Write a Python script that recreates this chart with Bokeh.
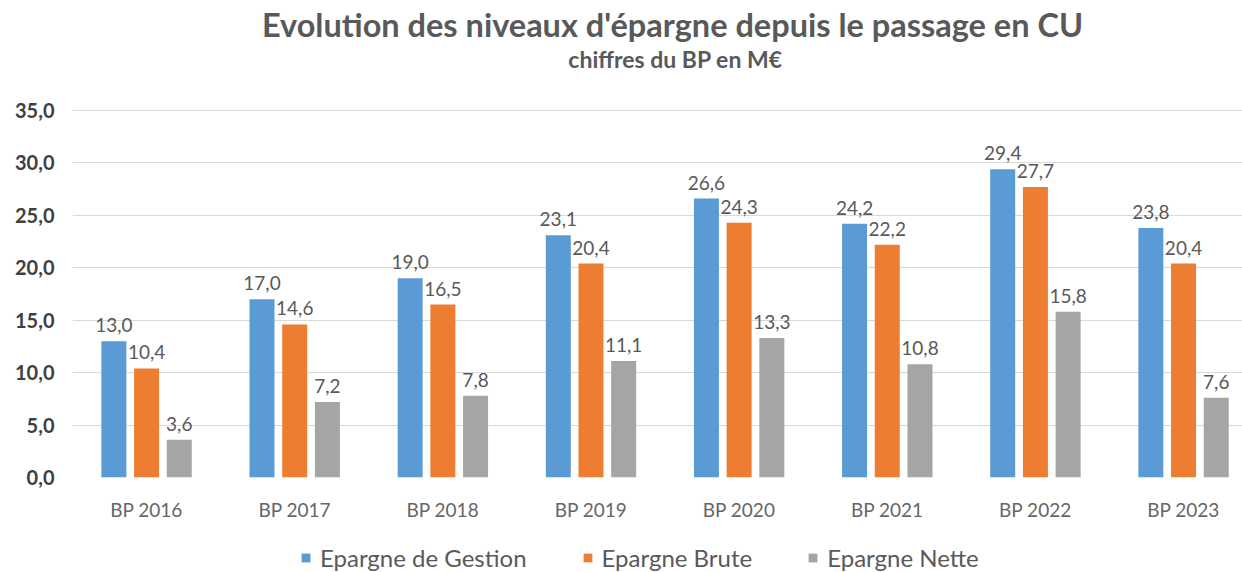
from bokeh.plotting import figure
from bokeh.layouts import column
from bokeh.models import (Range1d, FixedTicker, CustomJSTickFormatter, Label,
                          Legend, LegendItem, ColumnDataSource)
from bokeh.transform import dodge
from bokeh.core.properties import value
from bokeh.embed import file_html
from bokeh.resources import INLINE

categories = ["BP 2016", "BP 2017", "BP 2018", "BP 2019", "BP 2020", "BP 2021", "BP 2022", "BP 2023"]
gestion = [13.0, 17.0, 19.0, 23.1, 26.6, 24.2, 29.4, 23.8]
brute = [10.4, 14.6, 16.5, 20.4, 24.3, 22.2, 27.7, 20.4]
nette = [3.6, 7.2, 7.8, 11.1, 13.3, 10.8, 15.8, 7.6]
series_names = ["Epargne de Gestion", "Epargne Brute", "Epargne Nette"]
y_ticks = [0, 5, 10, 15, 20, 25, 30, 35]
title_text = "Evolution des niveaux d'épargne depuis le passage en CU"
subtitle_text = "chiffres du BP en M€"

colors = ["#5B9BD5", "#ED7D31", "#A5A5A5"]
FONT = "Lato"
TXT = "#595959"

def fmt(v):
    return f"{v:.1f}".replace(".", ",")

xi = [i + 0.5 for i in range(len(categories))]
src = ColumnDataSource(dict(
    xi=xi,
    gestion=gestion, brute=brute, nette=nette,
    gestion_l=[fmt(v) for v in gestion],
    brute_l=[fmt(v) for v in brute],
    nette_l=[fmt(v) for v in nette],
))

W, H0, H1, H2 = 1242, 92, 438, 42
PITCH = 148.14


def strip(height):
    f = figure(width=W, height=height, output_backend="svg", toolbar_location=None,
               title=None, x_axis_type=None, y_axis_type=None,
               x_range=Range1d(-60, -52), y_range=Range1d(100, 101),
               min_border_left=0, min_border_right=0, min_border_top=0,
               min_border_bottom=0, outline_line_color=None)
    f.xgrid.grid_line_color = None
    f.ygrid.grid_line_color = None
    return f

# header strip with title and subtitle (its frame is aligned with the chart frame)
hd = strip(H0)
hd.add_layout(Label(x=600, y=68, x_units="screen", y_units="screen",
                    text=title_text, text_align="center", text_baseline="alphabetic",
                    text_font=FONT, text_font_style="bold", text_font_size="32.5px",
                    text_color=TXT))
hd.add_layout(Label(x=603, y=34, x_units="screen", y_units="screen",
                    text=subtitle_text, text_align="center", text_baseline="alphabetic",
                    text_font=FONT, text_font_style="bold", text_font_size="23px",
                    text_color=TXT))

# main chart
p = figure(width=W, height=H1, output_backend="svg", toolbar_location=None,
           title=None,
           x_range=Range1d(0, (W - 72) / PITCH), y_range=Range1d(0, 35.1),
           min_border_left=72, min_border_right=0, min_border_top=109 - H0,
           min_border_bottom=H0 + H1 - 477, outline_line_color=None)
p.background_fill_color = "white"
p.border_fill_color = "white"

p.xaxis.ticker = FixedTicker(ticks=xi)
p.xaxis.formatter = CustomJSTickFormatter(args=dict(labels=categories),
                                          code="return labels[Math.floor(tick)];")
p.xaxis.axis_line_color = None
p.xaxis.major_tick_line_color = None
p.xaxis.minor_tick_line_color = None
p.xaxis.major_tick_out = 0
p.xaxis.major_tick_in = 0
p.xaxis.major_label_standoff = 20
p.xaxis.major_label_text_font = FONT
p.xaxis.major_label_text_font_size = "19px"
p.xaxis.major_label_text_color = "#666666"

p.yaxis.ticker = FixedTicker(ticks=y_ticks)
p.yaxis.formatter = CustomJSTickFormatter(code="return tick.toFixed(1).replace('.', ',');")
p.yaxis.axis_line_color = None
p.yaxis.major_tick_line_color = None
p.yaxis.minor_tick_line_color = None
p.yaxis.major_tick_out = 0
p.yaxis.major_tick_in = 0
p.yaxis.major_label_standoff = 18
p.yaxis.major_label_text_font = FONT
p.yaxis.major_label_text_font_size = "20px"
p.yaxis.major_label_text_font_style = "bold"
p.yaxis.major_label_text_color = "#404040"

p.xgrid.grid_line_color = None
p.ygrid.grid_line_color = "#D9D9D9"
p.ygrid.grid_line_width = 1

bw = 25 / PITCH
off = 32.7 / PITCH
fields = ["gestion", "brute", "nette"]
for k, f in enumerate(fields):
    o = (k - 1) * off
    p.vbar(x=dodge("xi", o, range=p.x_range), top=f, width=bw, source=src,
           fill_color=colors[k], line_color=None)
    p.text(x=dodge("xi", o, range=p.x_range), y=f, text=f + "_l", source=src,
           text_align="center", text_baseline="alphabetic", y_offset=-16,
           text_font=value(FONT), text_font_size="19px", text_color=TXT)

# legend strip (swatches from zero-height bars kept outside its ranges)
lg = strip(H2)
items = []
for k, f in enumerate(fields):
    r = lg.vbar(x="xi", top=f, bottom=f, width=0.1, source=src,
                fill_color=colors[k], line_color=None)
    items.append(LegendItem(label=series_names[k], renderers=[r]))
legend = Legend(items=items, orientation="horizontal", location=(228, 0),
                glyph_width=11, glyph_height=11, label_standoff=9, spacing=55,
                padding=0, margin=0, border_line_color=None, background_fill_alpha=0,
                label_height=20,
                label_text_font=FONT, label_text_font_size="24px", label_text_color=TXT)
lg.add_layout(legend, "center")

layout = column(hd, p, lg, spacing=0)
open("out.html", "w").write(file_html(layout, INLINE))
